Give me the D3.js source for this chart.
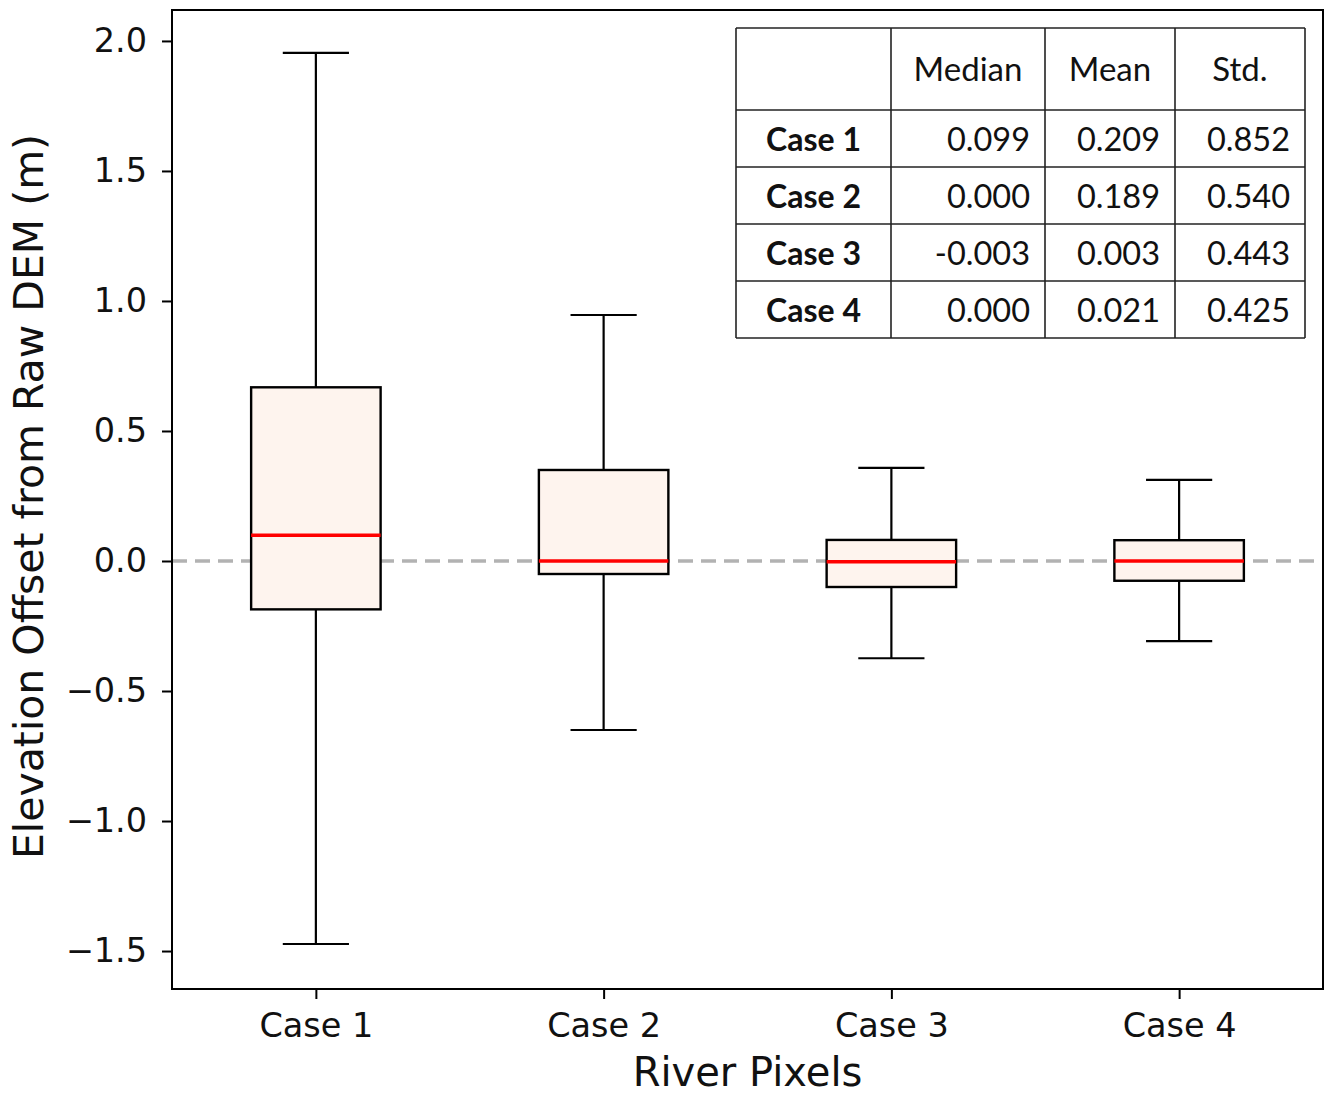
<!DOCTYPE html>
<html>
<head>
<meta charset="utf-8">
<script src="https://cdn.jsdelivr.net/npm/d3@7/dist/d3.min.js"></script>
<style>
  html, body { margin: 0; padding: 0; background: #fff; }
  svg { display: block; }
</style>
</head>
<body>
<svg id="chart" width="1329" height="1096"></svg>
<script>
// Box statistics per case (metres)
const categories  = ["Case 1", "Case 2", "Case 3", "Case 4"];
const whiskerLow  = [-1.473, -0.650, -0.374, -0.308];
const q1          = [-0.186, -0.050, -0.100, -0.076];
const medians     = [0.099, 0.000, -0.003, 0.000];
const q3          = [0.668, 0.350, 0.081, 0.080];
const whiskerHigh = [1.954, 0.946, 0.358, 0.312];

// Y tick values
const yTicks = [-1.5, -1.0, -0.5, 0.0, 0.5, 1.0, 1.5, 2.0];

// Summary table contents
const tableHeader = ["", "Median", "Mean", "Std."];
const tableMedian = ["0.099", "0.000", "-0.003", "0.000"];
const tableMean   = ["0.209", "0.189", "0.003", "0.021"];
const tableStd    = ["0.852", "0.540", "0.443", "0.425"];

const svg = d3.select("#chart");
const plot = { left: 172, right: 1323, top: 10, bottom: 989 };

const x = d3.scaleLinear().domain([0.5, 4.5]).range([plot.left, plot.right]);
const y = d3.scaleLinear().domain([-1.646, 2.119]).range([plot.bottom, plot.top]);

// half-widths of boxes and whisker caps
const boxHalf = x(1.225) - x(1);
const capHalf = x(1.115) - x(1);

// Zero reference line
svg.append("line")
  .attr("x1", plot.left).attr("x2", plot.right)
  .attr("y1", y(0)).attr("y2", y(0))
  .attr("stroke", "#b2b2b2").attr("stroke-width", 3.5)
  .attr("stroke-dasharray", "15 8");

const boxes = svg.append("g").selectAll("g")
  .data(categories.map((c, i) => ({
    c, pos: i + 1, lo: whiskerLow[i], q1: q1[i], med: medians[i], q3: q3[i], hi: whiskerHigh[i]
  })))
  .join("g");

// whiskers
boxes.append("line")
  .attr("x1", d => x(d.pos)).attr("x2", d => x(d.pos))
  .attr("y1", d => y(d.hi)).attr("y2", d => y(d.q3))
  .attr("stroke", "#000").attr("stroke-width", 2.2);
boxes.append("line")
  .attr("x1", d => x(d.pos)).attr("x2", d => x(d.pos))
  .attr("y1", d => y(d.q1)).attr("y2", d => y(d.lo))
  .attr("stroke", "#000").attr("stroke-width", 2.2);
// caps
boxes.append("line")
  .attr("x1", d => x(d.pos) - capHalf).attr("x2", d => x(d.pos) + capHalf)
  .attr("y1", d => y(d.hi)).attr("y2", d => y(d.hi))
  .attr("stroke", "#000").attr("stroke-width", 2.2);
boxes.append("line")
  .attr("x1", d => x(d.pos) - capHalf).attr("x2", d => x(d.pos) + capHalf)
  .attr("y1", d => y(d.lo)).attr("y2", d => y(d.lo))
  .attr("stroke", "#000").attr("stroke-width", 2.2);
// box
boxes.append("rect")
  .attr("x", d => x(d.pos) - boxHalf)
  .attr("width", 2 * boxHalf)
  .attr("y", d => y(d.q3))
  .attr("height", d => y(d.q1) - y(d.q3))
  .attr("fill", "#fef4ee")
  .attr("stroke", "#000").attr("stroke-width", 2.4);
// median
boxes.append("line")
  .attr("x1", d => x(d.pos) - boxHalf).attr("x2", d => x(d.pos) + boxHalf)
  .attr("y1", d => y(d.med)).attr("y2", d => y(d.med))
  .attr("stroke", "#ff0000").attr("stroke-width", 3.5);

// Axes
const tickFont = "DejaVu Sans";
const yAxis = svg.append("g")
  .attr("transform", `translate(${plot.left},0)`)
  .call(d3.axisLeft(y).tickValues(yTicks).tickFormat(d3.format(".1f")).tickSize(10).tickPadding(15));
const xAxis = svg.append("g")
  .attr("transform", `translate(0,${plot.bottom})`)
  .call(d3.axisBottom(x).tickValues([1, 2, 3, 4]).tickFormat(d => categories[d - 1]).tickSize(10).tickPadding(14));

[yAxis, xAxis].forEach(a => {
  a.select(".domain").remove();
  a.selectAll(".tick line").attr("stroke", "#000").attr("stroke-width", 2);
  a.selectAll(".tick text").attr("fill", "#111")
    .style("font-family", tickFont).style("font-size", "33.5px");
});

// Frame
svg.append("rect")
  .attr("x", plot.left).attr("y", plot.top)
  .attr("width", plot.right - plot.left).attr("height", plot.bottom - plot.top)
  .attr("fill", "none").attr("stroke", "#000").attr("stroke-width", 2);

// Axis titles
svg.append("text")
  .attr("x", (plot.left + plot.right) / 2).attr("y", 1086)
  .attr("text-anchor", "middle")
  .style("font-family", tickFont).style("font-size", "40px").attr("fill", "#111")
  .text("River Pixels");
svg.append("text")
  .attr("transform", `translate(43,${(plot.top + plot.bottom) / 2 - 3}) rotate(-90)`)
  .attr("text-anchor", "middle")
  .style("font-family", tickFont).style("font-size", "41px").attr("fill", "#111")
  .text("Elevation Offset from Raw DEM (m)");

// Summary table
const tbl = { left: 736, top: 28, colW: [155, 154, 130, 130], rowH: [82, 57, 57, 57, 57] };
const colX = [tbl.left];
tbl.colW.forEach(w => colX.push(colX[colX.length - 1] + w));
const rowY = [tbl.top];
tbl.rowH.forEach(h => rowY.push(rowY[rowY.length - 1] + h));

const tg = svg.append("g").style("font-family", "Lato, 'Open Sans', sans-serif");
tg.append("rect")
  .attr("x", colX[0]).attr("y", rowY[0])
  .attr("width", colX[4] - colX[0]).attr("height", rowY[5] - rowY[0])
  .attr("fill", "#fff");
tg.selectAll("line.v").data(colX).join("line")
  .attr("x1", d => d).attr("x2", d => d)
  .attr("y1", rowY[0]).attr("y2", rowY[5])
  .attr("stroke", "#222").attr("stroke-width", 1.6);
tg.selectAll("line.h").data(rowY).join("line")
  .attr("y1", d => d).attr("y2", d => d)
  .attr("x1", colX[0]).attr("x2", colX[4])
  .attr("stroke", "#222").attr("stroke-width", 1.6);

// header
tableHeader.forEach((h, j) => {
  if (!h) return;
  tg.append("text")
    .attr("x", (colX[j] + colX[j + 1]) / 2)
    .attr("y", (rowY[0] + rowY[1]) / 2 + 12)
    .attr("text-anchor", "middle")
    .style("font-size", "33px").attr("fill", "#111")
    .text(h);
});
// body rows
categories.forEach((c, i) => {
  const cy = (rowY[i + 1] + rowY[i + 2]) / 2 + 12;
  tg.append("text")
    .attr("x", (colX[0] + colX[1]) / 2).attr("y", cy)
    .attr("text-anchor", "middle")
    .style("font-size", "32px").style("font-weight", "bold").attr("fill", "#111")
    .text(c);
  [tableMedian[i], tableMean[i], tableStd[i]].forEach((v, j) => {
    tg.append("text")
      .attr("x", colX[j + 2] - 15).attr("y", cy)
      .attr("text-anchor", "end")
      .style("font-size", "32.5px").attr("fill", "#111")
      .text(v);
  });
});
</script>
</body>
</html>
